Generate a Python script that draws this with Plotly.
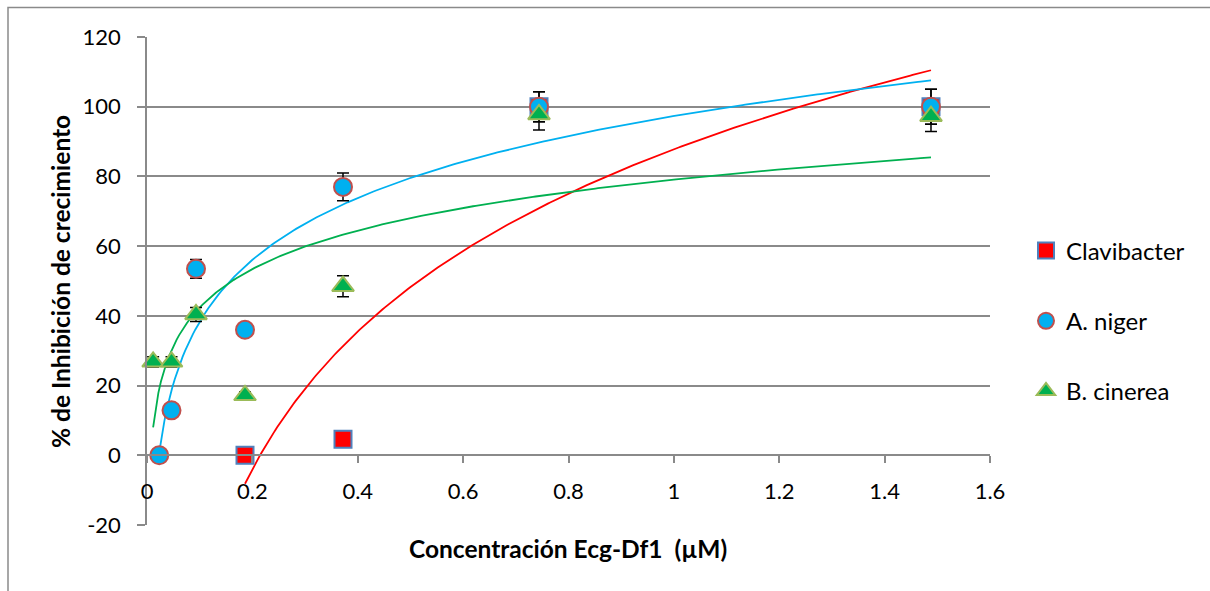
import numpy as np
import plotly.graph_objects as go

# ---- data ----
conc_clav = [0.186, 0.372, 0.744, 1.488]
clav = [0, 4.6, 100, 100]
clav_err = [0, 0, 4.3, 5]

conc_niger = [0.02325, 0.0465, 0.093, 0.186, 0.372, 0.744, 1.488]
niger = [0, 12.9, 53.5, 36, 77, 100, 100]
niger_err = [0, 0, 2.7, 0, 4, 4.3, 5]

conc_cin = [0.011625, 0.0465, 0.093, 0.186, 0.372, 0.744, 1.488]
cinerea = [26.8, 26.8, 40.4, 17.2, 48.5, 97.8, 97.3]
cinerea_err = [1.5, 1.5, 2, 1, 3, 4.5, 4.4]

x_ticks = [0, 0.2, 0.4, 0.6, 0.8, 1.0, 1.2, 1.4, 1.6]
x_ticklabels = ["0", "0.2", "0.4", "0.6", "0.8", "1", "1.2", "1.4", "1.6"]
y_ticks = [-20, 0, 20, 40, 60, 80, 100, 120]
y_ticklabels = ["-20", "0", "20", "40", "60", "80", "100", "120"]

FONT = "Lato"
GRID = "#8a8a8a"

def log_trend(xs, ys):
    lx = np.log(np.array(xs, dtype=float))
    a, b = np.polyfit(lx, np.array(ys, dtype=float), 1)
    xx = np.linspace(min(xs), max(xs), 300)
    return xx, a * np.log(xx) + b

fig = go.Figure()

# trendlines (behind markers)
for xs, ys, col in [(conc_clav, clav, "#FF0000"),
                    (conc_niger, niger, "#00B0F0"),
                    (conc_cin, cinerea, "#00B050")]:
    tx, ty = log_trend(xs, ys)
    fig.add_trace(go.Scatter(x=tx, y=ty, mode="lines", showlegend=False,
                             line=dict(color=col, width=1.8), hoverinfo="skip"))

def err(vals):
    return dict(type="data", array=vals, visible=True, color="black",
                thickness=1.5, width=6)

# error bars (drawn behind all markers)
for xs, ys, es in [(conc_clav, clav, clav_err),
                   (conc_niger, niger, niger_err),
                   (conc_cin, cinerea, cinerea_err)]:
    fig.add_trace(go.Scatter(x=xs, y=ys, mode="markers", showlegend=False,
                             error_y=err(es), cliponaxis=False, hoverinfo="skip",
                             marker=dict(size=1, color="rgba(0,0,0,0)")))

fig.add_trace(go.Scatter(
    x=conc_clav, y=clav, mode="markers", name="Clavibacter", legendgroup="a",
    cliponaxis=False,
    marker=dict(symbol="square", size=17, color="#FF0000",
                line=dict(color="#4F81BD", width=2))))
fig.add_trace(go.Scatter(
    x=conc_niger, y=niger, mode="markers", name="A. niger", legendgroup="b",
    cliponaxis=False,
    marker=dict(symbol="circle", size=18, color="#00B0F0",
                line=dict(color="#C0504D", width=2))))
fig.add_trace(go.Scatter(
    x=conc_cin, y=cinerea, mode="markers", name="B. cinerea", legendgroup="c",
    cliponaxis=False,
    marker=dict(symbol="triangle-up", size=19, color="#00B050",
                line=dict(color="#9BBB59", width=2))))

W, H = 1210, 591
L, R, T, B = 147, 220, 37, 66
pw, ph = W - L - R, H - T - B

def px_x(p):
    return (p - L) / pw

def px_y(p):
    return (H - B - p) / ph

fig.update_layout(
    width=W, height=H,
    margin=dict(l=L, r=R, t=T, b=B),
    paper_bgcolor="white", plot_bgcolor="white",
    font=dict(family=FONT, size=22, color="black"),
    xaxis=dict(range=[0, 1.6], tickvals=x_ticks, ticktext=x_ticklabels,
               anchor="free", position=20 / 140, showline=True,
               linecolor=GRID, linewidth=1.5, ticks="outside", ticklen=7,
               tickcolor=GRID, tickwidth=1.5, showgrid=False, zeroline=False,
               ticklabelstandoff=10, tickfont=dict(family=FONT, size=22)),
    yaxis=dict(range=[-20, 120], tickvals=y_ticks, ticktext=y_ticklabels,
               showline=True,
               linecolor=GRID, linewidth=1.5, ticks="outside", ticklen=8,
               tickcolor=GRID, tickwidth=1.5, showgrid=True, gridcolor=GRID,
               gridwidth=1.5, zeroline=False, ticklabelstandoff=12,
               tickfont=dict(family=FONT, size=22)),
    legend=dict(x=px_x(1026), y=px_y(321), xanchor="left", yanchor="middle",
                font=dict(family=FONT, size=24), traceorder="grouped",
                tracegroupgap=36, bgcolor="rgba(0,0,0,0)"),
    showlegend=True,
    annotations=[
        dict(text="<b>Concentración Ecg-Df1  (µM)</b>", xref="paper", yref="paper",
             x=px_x(568), y=px_y(548), showarrow=False,
             font=dict(family=FONT, size=24.5), xanchor="center", yanchor="middle"),
        dict(text="<b>% de Inhibición de crecimiento</b>", xref="paper", yref="paper",
             x=px_x(60), y=px_y(282), showarrow=False, textangle=-90,
             font=dict(family=FONT, size=24.5), xanchor="center", yanchor="middle"),
    ],
    shapes=[dict(type="rect", xref="paper", yref="paper",
                 x0=px_x(8), x1=px_x(1230), y0=px_y(620), y1=px_y(7.5),
                 line=dict(color="#8a8a8a", width=1.5), layer="below")],
)

fig.write_html("out.html")
